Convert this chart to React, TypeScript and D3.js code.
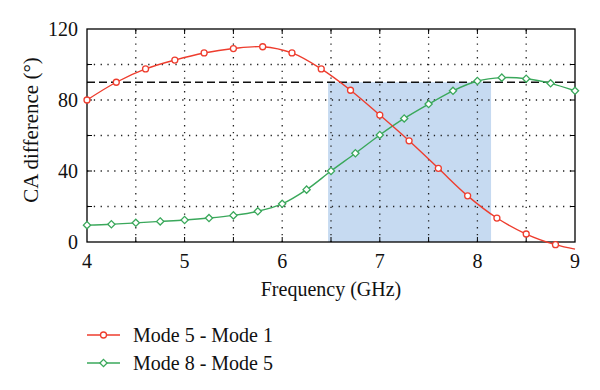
import React from "react";
import * as d3 from "d3";

const WIDTH = 600;
const HEIGHT = 390;
const M = { left: 87, right: 25, top: 29, bottom: 148 };

// Mode 5 - Mode 1 (last point at 9 GHz has no marker)
const redFreq = [4, 4.3, 4.6, 4.9, 5.2, 5.5, 5.8, 6.1, 6.4, 6.7, 7.0, 7.3, 7.6, 7.9, 8.2, 8.5, 8.8, 9.0];
const redVals = [80, 90, 97.5, 102.5, 106.5, 109, 110, 106.5, 97.5, 85.5, 71.5, 57, 41.5, 26, 13.5, 4.5, -1.5, -4];
const redMarked = redFreq.length - 1;

// Mode 8 - Mode 5
const greenFreq = [4, 4.25, 4.5, 4.75, 5, 5.25, 5.5, 5.75, 6, 6.25, 6.5, 6.75, 7, 7.25, 7.5, 7.75, 8, 8.25, 8.5, 8.75, 9];
const greenVals = [9.5, 10, 10.8, 11.6, 12.4, 13.5, 15, 17.3, 21.5, 29.5, 40, 50, 60.3, 69.6, 77.7, 85.2, 90.7, 92.6, 92, 89.4, 85.2];

const xTickLabels = [4, 5, 6, 7, 8, 9];
const yTickLabels = [0, 40, 80, 120];
const xGrid = [4.5, 5, 5.5, 6, 6.5, 7, 7.5, 8, 8.5];
const yGrid = [20, 40, 60, 80, 100];
const bandRange = [6.47, 8.14];
const threshold = 90;

const RED = "#ee3d2e";
const GREEN = "#3aa85b";
const FONT = "'Liberation Serif', 'DejaVu Serif', serif";

export default function App() {
  const x = d3.scaleLinear().domain([4, 9]).range([M.left, WIDTH - M.right]);
  const y = d3.scaleLinear().domain([0, 120]).range([HEIGHT - M.bottom, M.top]);
  const [x0, x1] = x.range();
  const [y0, y1] = y.range();

  const line = d3
    .line<[number, number]>()
    .x((d) => x(d[0]))
    .y((d) => y(d[1]))
    .curve(d3.curveCatmullRom.alpha(0.5));

  const redPts = redFreq.map((f, i) => [f, redVals[i]] as [number, number]);
  const greenPts = greenFreq.map((f, i) => [f, greenVals[i]] as [number, number]);

  const diamond = (cx: number, cy: number, r: number) =>
    `M${cx},${cy - r}L${cx + r},${cy}L${cx},${cy + r}L${cx - r},${cy}Z`;

  const tickLen = 5;

  return (
    <svg
      width={WIDTH}
      height={HEIGHT}
      style={{ position: "absolute", left: 0, top: 0, background: "#fff" }}
      fontFamily={FONT}
    >
      {/* shaded band */}
      <rect
        x={x(bandRange[0])}
        y={y(threshold)}
        width={x(bandRange[1]) - x(bandRange[0])}
        height={y(0) - y(threshold)}
        fill="#c6daf1"
      />

      {/* dotted grid */}
      {xGrid.map((g) => (
        <line key={"gx" + g} x1={x(g)} x2={x(g)} y1={y0} y2={y1}
          stroke="#222" strokeWidth={1.3} strokeDasharray="1.3,5.5" />
      ))}
      {yGrid.map((g) => (
        <line key={"gy" + g} x1={x0} x2={x1} y1={y(g)} y2={y(g)}
          stroke="#222" strokeWidth={1.3} strokeDasharray="1.3,5.5" />
      ))}

      {/* ticks on all sides */}
      {xGrid.map((g) => (
        <g key={"tx" + g} stroke="#000" strokeWidth={1}>
          <line x1={x(g)} x2={x(g)} y1={y0} y2={y0 - tickLen} />
          <line x1={x(g)} x2={x(g)} y1={y1} y2={y1 + tickLen} />
        </g>
      ))}
      {yGrid.map((g) => (
        <g key={"ty" + g} stroke="#000" strokeWidth={1}>
          <line x1={x0} x2={x0 + tickLen} y1={y(g)} y2={y(g)} />
          <line x1={x1} x2={x1 - tickLen} y1={y(g)} y2={y(g)} />
        </g>
      ))}

      {/* 90 degree threshold */}
      <line x1={x0} x2={x1} y1={y(threshold)} y2={y(threshold)}
        stroke="#111" strokeWidth={1.4} strokeDasharray="8,4" />

      {/* frame */}
      <rect x={x0} y={y1} width={x1 - x0} height={y0 - y1}
        fill="none" stroke="#000" strokeWidth={1.3} />

      {/* series */}
      <path d={line(greenPts) || ""} fill="none" stroke={GREEN} strokeWidth={1.4} />
      <path d={line(redPts) || ""} fill="none" stroke={RED} strokeWidth={1.4} />
      {greenPts.map((p, i) => (
        <path key={"gm" + i} d={diamond(x(p[0]), y(p[1]), 3.6)}
          fill="#fff" stroke={GREEN} strokeWidth={1.3} />
      ))}
      {redPts.slice(0, redMarked).map((p, i) => (
        <circle key={"rm" + i} cx={x(p[0])} cy={y(p[1])} r={3}
          fill="#fff" stroke={RED} strokeWidth={1.3} />
      ))}

      {/* tick labels */}
      {xTickLabels.map((t) => (
        <text key={"xl" + t} x={x(t)} y={y0 + 26} textAnchor="middle" fontSize={20} fill="#111">
          {t}
        </text>
      ))}
      {yTickLabels.map((t) => (
        <text key={"yl" + t} x={x0 - 9} y={y(t) + 6.5} textAnchor="end" fontSize={20} fill="#111">
          {t}
        </text>
      ))}

      {/* axis titles */}
      <text x={(x0 + x1) / 2} y={296} textAnchor="middle" fontSize={20} fill="#111">
        Frequency (GHz)
      </text>
      <text transform={`translate(38,130) rotate(-90)`} textAnchor="middle" fontSize={21} fill="#111">
        CA difference (°)
      </text>

      {/* legend */}
      <g>
        <line x1={87} x2={120} y1={335} y2={335} stroke={RED} strokeWidth={1.4} />
        <circle cx={103.5} cy={335} r={3} fill="#fff" stroke={RED} strokeWidth={1.3} />
        <text x={133} y={342} fontSize={20} fill="#111">Mode 5 - Mode 1</text>
        <line x1={87} x2={120} y1={363} y2={363} stroke={GREEN} strokeWidth={1.4} />
        <path d={diamond(103.5, 363, 3.6)} fill="#fff" stroke={GREEN} strokeWidth={1.3} />
        <text x={133} y={370} fontSize={20} fill="#111">Mode 8 - Mode 5</text>
      </g>
    </svg>
  );
}
